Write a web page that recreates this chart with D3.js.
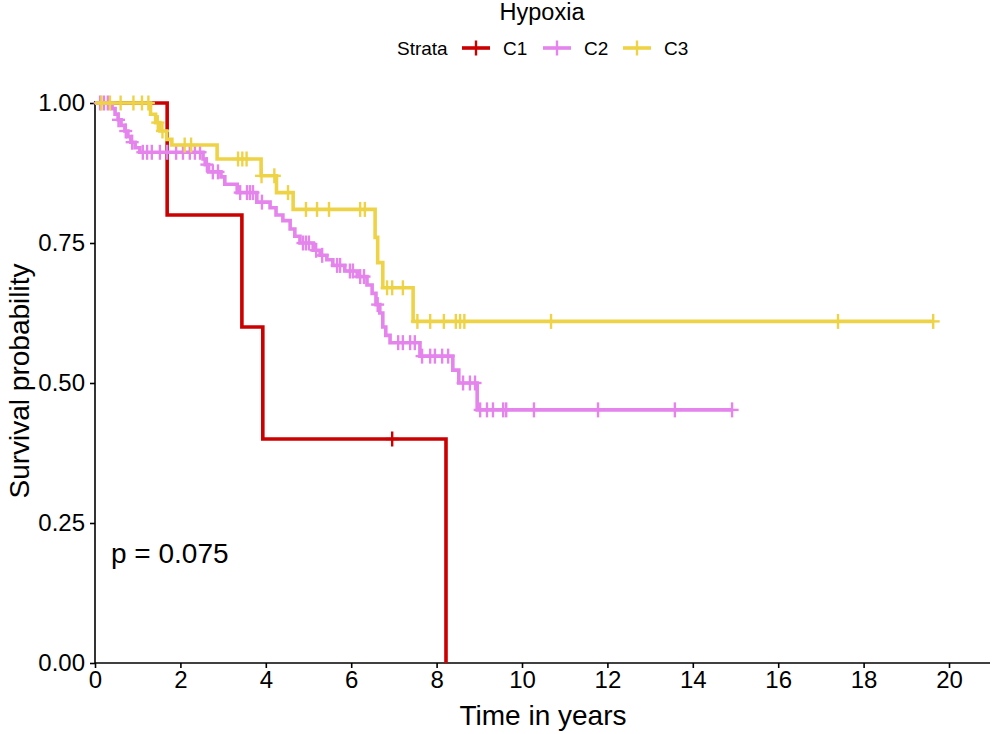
<!DOCTYPE html>
<html>
<head>
<meta charset="utf-8">
<script src="https://cdn.jsdelivr.net/npm/d3@7"></script>
<style>
  html, body { margin: 0; padding: 0; background: #fff; }
  svg { display: block; font-family: "Liberation Sans", Arial, Helvetica, sans-serif; }
</style>
</head>
<body>
<svg id="chart" width="998" height="734"></svg>
<script>
// ---------------- DATA ----------------
const strata = ["C1", "C2", "C3"];
const strataColors = ["#CC0000", "#E484EC", "#EED347"];

// C1 step function (time in years, survival after the step)
const c1Times = [0, 1.69, 3.44, 3.93, 8.22];
const c1Surv  = [1.0, 0.80, 0.60, 0.40, 0.00];
const c1Censor = [6.96];
const c1End = 8.22;

// C2 step function
const c2Times = [0, 0.40, 0.47, 0.54, 0.61, 0.70, 0.77, 0.84, 0.94, 1.05,
                 2.53, 2.58, 2.66, 2.95, 3.04, 3.33, 3.79, 4.10, 4.24, 4.40,
                 4.57, 4.68, 4.80, 5.11, 5.27, 5.43, 5.57, 5.85, 6.14, 6.37,
                 6.49, 6.58, 6.67, 6.74, 6.81, 6.91, 7.61, 8.38, 8.52, 8.95];
const c2Surv  = [1.0, 0.99, 0.98, 0.97, 0.96, 0.95, 0.94, 0.93, 0.92, 0.912,
                 0.90, 0.89, 0.877, 0.868, 0.855, 0.84, 0.823, 0.813, 0.80, 0.79,
                 0.775, 0.762, 0.75, 0.737, 0.728, 0.72, 0.71, 0.70, 0.69, 0.675,
                 0.66, 0.64, 0.625, 0.60, 0.585, 0.572, 0.548, 0.523, 0.50, 0.452];
const c2Censor = [0.12, 0.21, 0.30, 0.55, 0.72, 0.87,
                  1.12, 1.22, 1.33, 1.52, 1.69, 1.90, 2.06, 2.22, 2.34, 2.46,
                  2.62, 2.76, 2.88, 3.40, 3.56, 3.63, 3.70, 3.91,
                  4.87, 4.94, 5.01, 5.18, 5.32, 5.67, 5.74, 5.97, 6.04, 6.21, 6.30, 6.62,
                  7.10, 7.21, 7.38, 7.49, 7.66, 7.85, 7.96, 8.13, 8.27,
                  8.62, 8.78, 8.90, 9.02, 9.18, 9.32, 9.56, 9.63, 10.28, 11.78, 13.58, 14.92];
const c2End = 14.92;

// C3 step function
const c3Times = [0, 1.30, 1.42, 1.52, 1.68, 1.80, 2.86, 3.89, 4.25, 4.64, 6.56, 6.62, 6.74, 7.45];
const c3Surv  = [1.0, 0.98, 0.965, 0.95, 0.935, 0.925, 0.90, 0.87, 0.84, 0.81, 0.76, 0.715, 0.67, 0.61];
const c3Censor = [0.15, 0.35, 0.60, 0.90, 1.10, 1.25, 1.47, 1.58, 2.10, 2.25,
                  3.35, 3.45, 3.55, 3.90, 4.20, 4.52, 4.94, 5.20, 5.48, 6.21, 6.32,
                  6.84, 6.96, 7.21, 7.55, 7.85, 8.17, 8.45, 8.55, 8.65,
                  10.68, 17.40, 19.63];
const c3End = 19.63;

const xTicks = [0, 2, 4, 6, 8, 10, 12, 14, 16, 18, 20];
const yTicks = [0, 0.25, 0.5, 0.75, 1.0];
const yTickLabels = ["0.00", "0.25", "0.50", "0.75", "1.00"];
const titleText = "Hypoxia";
const legendTitle = "Strata";
const pValueText = "p = 0.075";
const xLabel = "Time in years";
const yLabel = "Survival probability";

// ---------------- DRAW ----------------
const svg = d3.select("#chart");
const x = d3.scaleLinear().domain([0, 20.96]).range([95, 990]);
const y = d3.scaleLinear().domain([0, 1]).range([663, 103]);

const series = [
  { name: strata[0], color: strataColors[0], times: c1Times, surv: c1Surv, censor: c1Censor, end: c1End },
  { name: strata[1], color: strataColors[1], times: c2Times, surv: c2Surv, censor: c2Censor, end: c2End },
  { name: strata[2], color: strataColors[2], times: c3Times, surv: c3Surv, censor: c3Censor, end: c3End }
];

function survAt(s, t) {
  let v = s.surv[0];
  for (let i = 0; i < s.times.length; i++) { if (s.times[i] <= t) v = s.surv[i]; }
  return v;
}

// axes
const xAxis = d3.axisBottom(x).tickValues(xTicks).tickSize(5).tickPadding(3).tickFormat(d3.format("d"));
const gx = svg.append("g").attr("transform", "translate(0,663)").call(xAxis);
gx.attr("font-family", null).attr("font-size", null);
gx.select(".domain").attr("stroke", "#000").attr("stroke-width", 1.6).attr("d", "M95,0H990");
gx.selectAll(".tick line").attr("stroke", "#000").attr("stroke-width", 1.6);
gx.selectAll(".tick text").attr("fill", "#000").style("font-size", "24px");

const yAxis = d3.axisLeft(y).tickValues(yTicks).tickSize(5).tickPadding(5).tickFormat((d, i) => yTickLabels[i]);
const gy = svg.append("g").attr("transform", "translate(95,0)").call(yAxis);
gy.attr("font-family", null).attr("font-size", null);
gy.select(".domain").attr("stroke", "#000").attr("stroke-width", 1.6).attr("d", "M0,663V101");
gy.selectAll(".tick line").attr("stroke", "#000").attr("stroke-width", 1.6);
gy.selectAll(".tick text").attr("fill", "#000").style("font-size", "24px");

// curves
const line = d3.line().x(d => x(d[0])).y(d => y(d[1])).curve(d3.curveStepAfter);
const curves = svg.append("g");
series.forEach(s => {
  const pts = s.times.map((t, i) => [t, s.surv[i]]);
  const last = s.times[s.times.length - 1];
  if (s.end > last) pts.push([s.end, s.surv[s.surv.length - 1]]);
  curves.append("path").datum(pts)
    .attr("d", line).attr("fill", "none")
    .attr("stroke", s.color).attr("stroke-width", 3.6)
    .attr("stroke-linejoin", "miter").attr("stroke-linecap", "butt");
  const cg = curves.append("g");
  s.censor.forEach(t => {
    const cx = x(t), cy = y(survAt(s, t));
    cg.append("line").attr("x1", cx - 6.5).attr("x2", cx + 6.5).attr("y1", cy).attr("y2", cy)
      .attr("stroke", s.color).attr("stroke-width", 2.4);
    cg.append("line").attr("x1", cx).attr("x2", cx).attr("y1", cy - 7.5).attr("y2", cy + 7.5)
      .attr("stroke", s.color).attr("stroke-width", 2.4);
  });
});

// p value
svg.append("text").attr("x", 111).attr("y", 563).text(pValueText)
  .style("font-size", "28px").attr("fill", "#000");

// axis titles
svg.append("text").attr("x", 543).attr("y", 725).attr("text-anchor", "middle")
  .text(xLabel).style("font-size", "28px").attr("fill", "#000");
svg.append("text").attr("transform", "translate(29,381) rotate(-90)").attr("text-anchor", "middle")
  .text(yLabel).style("font-size", "28px").attr("fill", "#000");

// title
svg.append("text").attr("x", 542).attr("y", 20).attr("text-anchor", "middle")
  .text(titleText).style("font-size", "23.5px").attr("fill", "#000");

// legend
const lg = svg.append("g");
const legY = 48;
lg.append("text").attr("x", 397).attr("y", legY + 7).text(legendTitle).style("font-size", "19px").attr("fill", "#000");
const legKeyX = [462, 543, 623];
series.forEach((s, i) => {
  const kx = legKeyX[i];
  lg.append("line").attr("x1", kx).attr("x2", kx + 28).attr("y1", legY).attr("y2", legY)
    .attr("stroke", s.color).attr("stroke-width", 3.6);
  lg.append("line").attr("x1", kx + 14).attr("x2", kx + 14).attr("y1", legY - 7.5).attr("y2", legY + 7.5)
    .attr("stroke", s.color).attr("stroke-width", 2.4);
  lg.append("text").attr("x", kx + 41).attr("y", legY + 7).text(s.name).style("font-size", "19px").attr("fill", "#000");
});
</script>
</body>
</html>
